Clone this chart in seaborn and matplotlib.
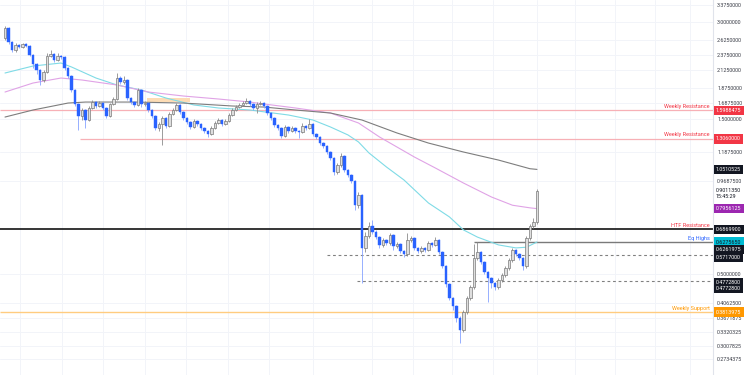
import numpy as np
import matplotlib
matplotlib.use("Agg")
import matplotlib.pyplot as plt
import matplotlib.transforms as mtransforms
from matplotlib.ticker import FixedLocator, FixedFormatter, NullLocator
import seaborn as sns

# ---------------- data ----------------
first_open = 2.670
close = [2.867, 2.596, 2.452, 2.541, 2.505, 2.559, 2.523, 2.367, 2.220, 2.128,
         1.982, 2.098, 2.350, 2.384, 2.284, 2.350, 2.333, 2.158, 2.039, 1.846,
         1.672, 1.535, 1.602, 1.492, 1.625, 1.695, 1.648, 1.683, 1.625, 1.535,
         1.672, 1.732, 2.010, 1.954, 1.982, 1.744, 1.695, 1.660, 1.846, 1.672,
         1.683, 1.602, 1.535, 1.410, 1.451, 1.513, 1.430, 1.557, 1.602, 1.660,
         1.579, 1.513, 1.471, 1.420, 1.482, 1.451, 1.410, 1.380, 1.351, 1.410,
         1.461, 1.492, 1.451, 1.482, 1.546, 1.602, 1.636, 1.660, 1.683, 1.708,
         1.672, 1.625, 1.672, 1.683, 1.648, 1.568, 1.513, 1.440, 1.410, 1.332,
         1.420, 1.380, 1.410, 1.380, 1.370, 1.430, 1.410, 1.451, 1.351, 1.323,
         1.267, 1.241, 1.189, 1.139, 1.032, 1.084, 1.156, 1.046, 1.010, 0.968,
         0.816, 0.876, 0.602, 0.655, 0.703, 0.674, 0.650, 0.615, 0.637, 0.623,
         0.660, 0.610, 0.619, 0.589, 0.576, 0.637, 0.646, 0.602, 0.589, 0.602,
         0.593, 0.623, 0.615, 0.637, 0.585, 0.529, 0.466, 0.422, 0.399, 0.366,
         0.336, 0.382, 0.422, 0.456, 0.560, 0.585, 0.545, 0.507, 0.486, 0.469,
         0.456, 0.479, 0.497, 0.522, 0.552, 0.593, 0.576, 0.560, 0.529, 0.646,
         0.703, 0.723, 0.9011]
high = [2.908, 2.887, 2.614, 2.577, 2.559, 2.577, 2.577, 2.541, 2.384, 2.236,
        2.143, 2.128, 2.401, 2.452, 2.401, 2.401, 2.367, 2.350, 2.174, 2.054,
        1.859, 1.683, 1.625, 1.613, 1.648, 1.720, 1.708, 1.708, 1.695, 1.636,
        1.683, 1.757, 2.083, 2.039, 2.039, 1.996, 1.757, 1.708, 1.873, 1.859,
        1.708, 1.695, 1.613, 1.546, 1.471, 1.535, 1.524, 1.579, 1.625, 1.683,
        1.672, 1.591, 1.524, 1.482, 1.503, 1.492, 1.461, 1.420, 1.390, 1.430,
        1.482, 1.513, 1.503, 1.503, 1.568, 1.625, 1.660, 1.683, 1.708, 1.744,
        1.720, 1.683, 1.695, 1.708, 1.695, 1.660, 1.579, 1.524, 1.451, 1.420,
        1.440, 1.430, 1.430, 1.420, 1.390, 1.461, 1.440, 1.503, 1.461, 1.361,
        1.332, 1.277, 1.250, 1.197, 1.147, 1.100, 1.181, 1.164, 1.054, 1.017,
        0.975, 0.895, 0.882, 0.674, 0.723, 0.734, 0.684, 0.655, 0.646, 0.641,
        0.669, 0.664, 0.628, 0.623, 0.593, 0.669, 0.655, 0.650, 0.606, 0.610,
        0.606, 0.632, 0.628, 0.650, 0.641, 0.589, 0.533, 0.469, 0.425, 0.401,
        0.371, 0.387, 0.428, 0.463, 0.619, 0.628, 0.589, 0.549, 0.511, 0.490,
        0.473, 0.486, 0.504, 0.529, 0.560, 0.602, 0.597, 0.581, 0.564, 0.655,
        0.713, 0.744, 0.914]
low = [2.633, 2.559, 2.418, 2.418, 2.487, 2.487, 2.505, 2.350, 2.158, 2.068,
       1.913, 1.954, 2.083, 2.333, 2.252, 2.268, 2.301, 2.128, 2.010, 1.820,
       1.648, 1.390, 1.492, 1.410, 1.482, 1.613, 1.625, 1.636, 1.602, 1.513,
       1.524, 1.660, 1.720, 1.926, 1.926, 1.720, 1.672, 1.636, 1.648, 1.636,
       1.648, 1.579, 1.513, 1.390, 1.380, 1.250, 1.410, 1.420, 1.546, 1.591,
       1.557, 1.492, 1.451, 1.400, 1.410, 1.430, 1.390, 1.361, 1.323, 1.342,
       1.400, 1.451, 1.430, 1.440, 1.471, 1.535, 1.591, 1.625, 1.648, 1.672,
       1.648, 1.602, 1.568, 1.660, 1.625, 1.546, 1.492, 1.420, 1.390, 1.313,
       1.323, 1.361, 1.370, 1.361, 1.313, 1.361, 1.390, 1.400, 1.332, 1.304,
       1.250, 1.223, 1.172, 1.123, 1.010, 1.017, 1.069, 1.032, 0.996, 0.954,
       0.788, 0.799, 0.469, 0.585, 0.646, 0.664, 0.641, 0.602, 0.606, 0.615,
       0.615, 0.593, 0.602, 0.581, 0.564, 0.568, 0.628, 0.593, 0.581, 0.581,
       0.585, 0.589, 0.606, 0.610, 0.576, 0.522, 0.456, 0.416, 0.387, 0.356,
       0.3065, 0.332, 0.377, 0.416, 0.450, 0.552, 0.537, 0.500, 0.410, 0.453,
       0.447, 0.450, 0.473, 0.490, 0.515, 0.545, 0.568, 0.552, 0.515, 0.522,
       0.637, 0.693, 0.713]

# moving averages (sampled at bar numbers)
ema_fast_bar = [0, 8, 16, 19, 26, 32, 39, 46, 54, 61, 70, 81, 88, 93, 98, 101,
                104, 109, 114, 121, 127, 131, 135, 141, 146, 149, 152]
ema_fast = [2.083, 2.189, 2.236, 2.174, 2.010, 1.913, 1.846, 1.744, 1.660, 1.625,
            1.602, 1.546, 1.492, 1.420, 1.342, 1.277, 1.181, 1.069, 0.975, 0.828,
            0.750, 0.684, 0.650, 0.615, 0.602, 0.605, 0.6276]
ema_mid_bar = [0, 8, 16, 22, 32, 41, 51, 61, 70, 74, 83, 93, 101, 107, 117, 123,
               131, 139, 145, 150, 152]
ema_mid = [1.820, 1.940, 2.010, 1.982, 1.913, 1.820, 1.769, 1.732, 1.695, 1.672,
           1.625, 1.568, 1.461, 1.323, 1.147, 1.061, 0.954, 0.864, 0.815, 0.800, 0.7956]
ema_slow_bar = [0, 8, 18, 23, 37, 51, 65, 74, 83, 93, 102, 112, 121, 131, 141, 150, 152]
ema_slow = [1.524, 1.602, 1.683, 1.695, 1.695, 1.683, 1.648, 1.636, 1.602, 1.568,
            1.492, 1.361, 1.267, 1.189, 1.123, 1.056, 1.0510525]

# key levels
weekly_res_1 = 1.5988475
weekly_res_2 = 1.3060000
htf_res = 0.6869900
eq_highs = 0.6275650
dash_1 = 0.5717000
dash_2 = 0.4772800
weekly_sup = 0.3813975
zone_low, zone_high = 1.700, 1.745

tick_values = [3.375, 3.0, 2.625, 2.375, 2.125, 1.875, 1.6875, 1.5, 1.1875, 0.96875,
               0.5, 0.40625, 0.3671875, 0.3320325, 0.3007825, 0.2734375]
tick_labels = ["3.3750000", "3.0000000", "2.6250000", "2.3750000", "2.1250000",
               "1.8750000", "1.6875000", "1.5000000", "1.1875000", "0.9687500",
               "0.5000000", "0.4062500", "0.3671875", "0.3320325", "0.3007825",
               "0.2734375"]

# ---------------- style ----------------
sns.set_theme(style="white")
plt.rcParams['font.family'] = ['Roboto', 'DejaVu Sans']

fig = plt.figure(figsize=(7.5, 3.75), dpi=100)
fig.patch.set_facecolor('white')
ax = fig.add_axes([0, 0, 713 / 750, 1])
ax.set_facecolor('white')
ax.set_yscale('log')
ax.set_ylim(0.2443, 3.497)
ax.set_xlim(-1.43, 202.3)

# grid
grid_bars = [4.3, 16.3, 28, 40, 51.7, 63.7, 75.4, 88, 105, 116.6, 127.7, 139.4,
             152, 162.9, 174.3, 185.7, 195.7]
ax.xaxis.set_major_locator(FixedLocator(grid_bars))
ax.tick_params(axis='x', length=0, labelbottom=False)
ax.yaxis.set_major_locator(FixedLocator(tick_values))
ax.yaxis.set_major_formatter(FixedFormatter(tick_labels))
ax.yaxis.set_minor_locator(NullLocator())
ax.yaxis.tick_right()
ax.tick_params(axis='y', length=0, pad=3, labelsize=3.9, labelcolor='#3a3d47')
ax.grid(True, color='#f2f4f9', lw=0.7)
for s in ['left', 'top', 'bottom']:
    ax.spines[s].set_visible(False)
ax.spines['right'].set_color('#e0e3eb')
ax.spines['right'].set_linewidth(0.8)

# zone
ax.fill_between([40.6, 52.9], zone_low, zone_high, color='#fddcb5', lw=0, zorder=1.2)

# moving averages
sns.lineplot(x=ema_fast_bar, y=ema_fast, ax=ax, color='#7fdbe6', lw=0.8, zorder=2)
sns.lineplot(x=ema_mid_bar, y=ema_mid, ax=ax, color='#e0a3e6', lw=0.8, zorder=2)
sns.lineplot(x=ema_slow_bar, y=ema_slow, ax=ax, color='#7d7d7d', lw=0.8, zorder=2)

# levels
xmin_ax, xmax_ax = -1.43, 202.3
ax.hlines(weekly_res_1, xmin_ax, xmax_ax, color='#f7b0b6', lw=0.9, zorder=1.5)
ax.hlines(weekly_res_2, 21.4, xmax_ax, color='#f7b0b6', lw=0.9, zorder=1.5)
ax.hlines(htf_res, xmin_ax, xmax_ax, color='#131313', lw=1.2, zorder=1.6)
ax.hlines(eq_highs, 134, xmax_ax, color='#7a7a7a', lw=1.0, zorder=1.6)
ax.hlines(dash_1, 92, xmax_ax, color='#808080', lw=0.8, linestyles=(0, (2.5, 2.5)), zorder=1.6)
ax.hlines(dash_2, 100.6, xmax_ax, color='#808080', lw=0.8, linestyles=(0, (2.5, 2.5)), zorder=1.6)
ax.hlines(weekly_sup, xmin_ax, xmax_ax, color='#ffcc80', lw=1.0, zorder=1.5)

# candles
n = len(close)
idx = np.arange(n)
c = np.array(close)
o = np.array([first_open] + close[:-1])
h = np.array(high)
l = np.array(low)
up = c >= o
bot = np.minimum(o, c)
hgt = np.abs(c - o)
ax.vlines(idx[up], l[up], h[up], color='#8c8c8c', lw=0.6, zorder=3)
ax.vlines(idx[~up], l[~up], h[~up], color='#86a2ff', lw=0.6, zorder=3)
ax.bar(idx[up], hgt[up], bottom=bot[up], width=0.72, color='#dedede',
       edgecolor='#7a7a7a', linewidth=0.5, zorder=4)
ax.bar(idx[~up], hgt[~up], bottom=bot[~up], width=0.72, color='#2962ff',
       edgecolor='#2962ff', linewidth=0.3, zorder=4)

# level captions
def caption(txt, price, color):
    ax.annotate(txt, xy=(201.4, price), xycoords='data', xytext=(0, 1.0),
                textcoords='offset points', ha='right', va='bottom',
                fontsize=4.0, color=color, zorder=6)

caption("Weekly Resistance", weekly_res_1, '#f23645')
caption("Weekly Resistance", weekly_res_2, '#f23645')
caption("HTF Resistance", htf_res, '#f23645')
caption("Eq Highs", eq_highs, '#2962ff')
caption("Weekly Support", weekly_sup, '#ff9800')

# price-axis labels
trans = mtransforms.blended_transform_factory(ax.transAxes, ax.transData)

def axis_label(txt, price, bg, fg, dy_px=0.0):
    ax.annotate(txt, xy=(1.0, price), xycoords=trans,
                xytext=(3.0 * 0.72, -dy_px * 0.72), textcoords='offset points',
                ha='left', va='center', fontsize=3.9, color=fg,
                bbox=dict(boxstyle='square,pad=0.42', fc=bg, ec='none'),
                annotation_clip=False, zorder=10)

axis_label("1.5988475", weekly_res_1, '#f23645', 'white')
axis_label("1.3060000", weekly_res_2, '#f23645', 'white')
axis_label("1.0510525", ema_slow[-1], '#131722', 'white')
axis_label("0.7956125", ema_mid[-1], '#9c27b0', 'white')
axis_label("0.6869900", htf_res, '#131722', 'white')
axis_label("0.6275650", eq_highs, '#00bcd4', '#131722')
axis_label("0.6261975", 0.6261975, '#131722', 'white', 7)
axis_label("0.5717000", dash_1, '#131722', 'white', 2)
axis_label("0.4772800", dash_2, '#131722', 'white', 2)
axis_label("0.4772800", dash_2, '#131722', 'white', 8)
axis_label("0.3813975", weekly_sup, '#ff9800', 'white')
axis_label("0.9011350", close[-1], 'none', '#131722', -1)
axis_label("15:45:29", close[-1], 'none', '#131722', 5.5)

fig.savefig('out.png', dpi=100, facecolor='white')
